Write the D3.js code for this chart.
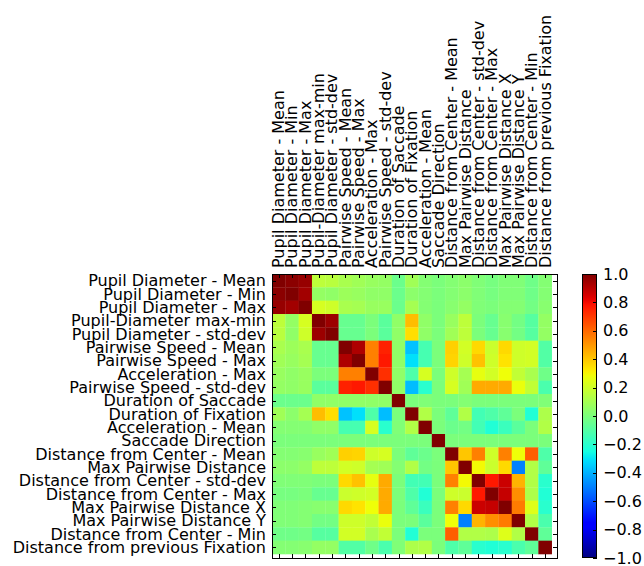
<!DOCTYPE html>
<html>
<head>
<meta charset="utf-8">
<script src="https://cdn.jsdelivr.net/npm/d3@7"></script>
<style>
  body { margin: 0; background: #fff; }
  text { font-family: "DejaVu Sans", sans-serif; font-size: 16px; fill: #000; }
</style>
</head>
<body>
<svg id="chart" width="644" height="566"></svg>
<script>
// feature names, same order on both axes
const features = [
    "Pupil Diameter - Mean",
    "Pupil Diameter - Min",
    "Pupil Diameter - Max",
    "Pupil-Diameter max-min",
    "Pupil Diameter - std-dev",
    "Pairwise Speed - Mean",
    "Pairwise Speed - Max",
    "Acceleration - Max",
    "Pairwise Speed - std-dev",
    "Duration of Saccade",
    "Duration of Fixation",
    "Acceleration - Mean",
    "Saccade Direction",
    "Distance from Center - Mean",
    "Max Pairwise Distance",
    "Distance from Center - std-dev",
    "Distance from Center - Max",
    "Max Pairwise Distance X",
    "Max Pairwise Distance Y",
    "Distance from Center - Min",
    "Distance from previous Fixation"
];

// correlation matrix (row = y label, column = x label)
const corr = [
    [1.00, 0.98, 0.96, 0.16, 0.15, 0.11, 0.09, 0.07, 0.06, -0.04, 0.09, 0.02, 0.00, 0.02, 0.04, 0.01, -0.01, 0.01, 0.01, -0.03, 0.02],
    [0.98, 1.00, 0.94, 0.06, 0.05, 0.08, 0.07, 0.05, 0.05, -0.04, 0.04, 0.02, 0.00, 0.02, 0.04, 0.01, -0.01, 0.01, 0.01, -0.03, 0.02],
    [0.96, 0.94, 1.00, 0.22, 0.20, 0.11, 0.10, 0.07, 0.07, -0.04, 0.10, 0.02, 0.00, 0.03, 0.06, 0.01, 0.00, 0.02, 0.02, -0.02, 0.03],
    [0.16, 0.06, 0.22, 1.00, 0.95, -0.05, -0.05, 0.00, -0.08, 0.05, 0.42, 0.05, 0.00, 0.07, 0.16, 0.00, -0.05, 0.03, -0.02, -0.09, 0.06],
    [0.15, 0.05, 0.20, 0.95, 1.00, -0.05, -0.05, 0.00, -0.08, 0.05, 0.35, 0.05, 0.00, 0.09, 0.16, 0.00, -0.05, 0.03, -0.02, -0.09, 0.06],
    [0.11, 0.08, 0.11, -0.05, -0.05, 1.00, 0.92, 0.55, 0.75, 0.05, -0.37, -0.13, 0.00, 0.38, 0.21, 0.36, 0.19, 0.36, 0.20, 0.21, -0.10],
    [0.09, 0.07, 0.10, -0.05, -0.05, 0.92, 1.00, 0.55, 0.77, 0.05, -0.31, -0.13, 0.00, 0.37, 0.20, 0.41, 0.20, 0.34, 0.20, 0.21, -0.10],
    [0.07, 0.05, 0.07, 0.00, 0.00, 0.55, 0.55, 1.00, 0.72, 0.05, -0.11, 0.22, 0.00, 0.20, 0.10, 0.26, 0.21, 0.28, 0.17, 0.11, -0.03],
    [0.06, 0.05, 0.07, -0.08, -0.08, 0.75, 0.77, 0.72, 1.00, 0.05, -0.38, -0.20, 0.00, 0.22, 0.09, 0.46, 0.46, 0.46, 0.27, 0.17, -0.12],
    [-0.04, -0.04, -0.04, 0.05, 0.05, 0.05, 0.05, 0.05, 0.05, 1.00, 0.00, 0.01, 0.00, 0.00, 0.02, 0.00, 0.00, 0.00, 0.00, 0.00, 0.01],
    [0.09, 0.04, 0.10, 0.42, 0.35, -0.37, -0.31, -0.11, -0.38, 0.00, 1.00, 0.13, 0.00, -0.07, 0.13, -0.14, -0.11, -0.07, 0.00, -0.22, 0.12],
    [0.02, 0.02, 0.02, 0.05, 0.05, -0.13, -0.13, 0.22, -0.20, 0.01, 0.13, 1.00, 0.00, -0.04, -0.02, -0.14, -0.22, -0.16, -0.08, 0.00, 0.13],
    [0.00, 0.00, 0.00, 0.00, 0.00, 0.00, 0.00, 0.00, 0.00, 0.00, 0.00, 0.00, 1.00, 0.00, 0.00, 0.00, 0.00, 0.00, 0.00, 0.00, 0.00],
    [0.02, 0.02, 0.03, 0.07, 0.09, 0.38, 0.37, 0.20, 0.22, 0.00, -0.07, -0.04, 0.00, 1.00, 0.40, 0.55, 0.20, 0.55, 0.28, 0.62, -0.11],
    [0.04, 0.04, 0.06, 0.16, 0.16, 0.21, 0.20, 0.10, 0.09, 0.02, 0.13, -0.02, 0.00, 0.40, 1.00, 0.29, 0.19, 0.36, -0.50, 0.13, -0.07],
    [0.01, 0.01, 0.01, 0.00, 0.00, 0.36, 0.41, 0.26, 0.46, 0.00, -0.14, -0.14, 0.00, 0.55, 0.29, 1.00, 0.77, 0.87, 0.44, 0.13, -0.20],
    [-0.01, -0.01, 0.00, -0.05, -0.05, 0.19, 0.20, 0.21, 0.46, 0.00, -0.11, -0.22, 0.00, 0.20, 0.19, 0.77, 1.00, 0.88, 0.52, 0.12, -0.22],
    [0.01, 0.01, 0.02, 0.03, 0.03, 0.36, 0.34, 0.28, 0.46, 0.00, -0.07, -0.16, 0.00, 0.55, 0.36, 0.87, 0.88, 1.00, 0.56, 0.24, -0.20],
    [0.01, 0.01, 0.02, -0.02, -0.02, 0.20, 0.20, 0.17, 0.27, 0.00, 0.00, -0.08, 0.00, 0.28, -0.50, 0.44, 0.52, 0.56, 1.00, 0.13, -0.12],
    [-0.03, -0.03, -0.02, -0.09, -0.09, 0.21, 0.21, 0.11, 0.17, 0.00, -0.22, 0.00, 0.00, 0.62, 0.13, 0.13, 0.12, 0.24, 0.13, 1.00, -0.07],
    [0.02, 0.02, 0.03, 0.06, 0.06, -0.10, -0.10, -0.03, -0.12, 0.01, 0.12, 0.13, 0.00, -0.11, -0.07, -0.20, -0.22, -0.20, -0.12, -0.07, 1.00]
];

const cbarTicks = [1.0, 0.8, 0.6, 0.4, 0.2, 0.0, -0.2, -0.4, -0.6, -0.8, -1.0];

const svg = d3.select("#chart");

// frame of the matrix axes (image does not quite fill it on the right/bottom)
const plotL = 272, plotT = 274, plotR = 557, plotB = 558;
const n = features.length;

const xScale = d3.scaleLinear().domain([-0.5, n - 0.1]).range([plotL, plotR]);
const yScale = d3.scaleLinear().domain([-0.5, n - 0.2]).range([plotT, plotB]);

// matplotlib "jet"
const toT = d3.scaleLinear().domain([-1, 1]).range([0, 1]).clamp(true);
const rCh = d3.scaleLinear().domain([0, 0.35, 0.66, 0.89, 1]).range([0, 0, 1, 1, 0.5]).clamp(true);
const gCh = d3.scaleLinear().domain([0, 0.125, 0.375, 0.64, 0.91, 1]).range([0, 0, 1, 1, 0, 0]).clamp(true);
const bCh = d3.scaleLinear().domain([0, 0.11, 0.34, 0.65, 1]).range([0.5, 1, 1, 0, 0]).clamp(true);
function jet(v) {
    const t = toT(v);
    return d3.rgb(rCh(t) * 255, gCh(t) * 255, bCh(t) * 255).formatHex();
}

// cells
const cells = [];
corr.forEach((row, i) => row.forEach((v, j) => cells.push({ i, j, v })));

svg.append("g")
    .selectAll("rect")
    .data(cells)
    .join("rect")
    .attr("x", d => xScale(d.j - 0.5))
    .attr("y", d => yScale(d.i - 0.5))
    .attr("width", d => xScale(d.j + 0.5) - xScale(d.j - 0.5) + 0.3)
    .attr("height", d => yScale(d.i + 0.5) - yScale(d.i - 0.5) + 0.3)
    .attr("fill", d => jet(d.v));

// ticks, pointing inwards on all four sides
const tickLen = 4;
const idx = d3.range(n);
const ticks = svg.append("g").attr("stroke", "#000").attr("stroke-width", 1);
idx.forEach(k => {
    const x = Math.round(xScale(k)) + 0.5, y = Math.round(yScale(k)) + 0.5;
    ticks.append("line").attr("x1", x).attr("x2", x).attr("y1", plotT).attr("y2", plotT + tickLen);
    ticks.append("line").attr("x1", x).attr("x2", x).attr("y1", plotB).attr("y2", plotB - tickLen);
    ticks.append("line").attr("y1", y).attr("y2", y).attr("x1", plotL).attr("x2", plotL + tickLen);
    ticks.append("line").attr("y1", y).attr("y2", y).attr("x1", plotR).attr("x2", plotR - tickLen);
});

svg.append("rect")
    .attr("x", plotL + 0.5).attr("y", plotT + 0.5)
    .attr("width", plotR - plotL).attr("height", plotB - plotT)
    .attr("fill", "none").attr("stroke", "#000").attr("stroke-width", 1);

// y labels
svg.append("g")
    .selectAll("text")
    .data(features)
    .join("text")
    .attr("x", plotL - 6)
    .attr("y", (d, i) => yScale(i))
    .attr("text-anchor", "end")
    .attr("dominant-baseline", "central")
    .text(d => d);

// x labels on top, rotated
svg.append("g")
    .selectAll("text")
    .data(features)
    .join("text")
    .attr("transform", (d, i) => "translate(" + xScale(i) + "," + (plotT - 6) + ") rotate(-90)")
    .attr("text-anchor", "start")
    .attr("dominant-baseline", "central")
    .text(d => d);

// colorbar
const cbX = 582, cbW = 15;
const cScale = d3.scaleLinear().domain([1, -1]).range([plotT, plotB]);

const grad = svg.append("defs").append("linearGradient")
    .attr("id", "jetGrad")
    .attr("x1", 0).attr("y1", 0).attr("x2", 0).attr("y2", 1);
grad.selectAll("stop")
    .data(d3.range(0, 1.0001, 1 / 64))
    .join("stop")
    .attr("offset", d => d)
    .attr("stop-color", d => jet(1 - 2 * d));

svg.append("rect")
    .attr("x", cbX).attr("y", plotT)
    .attr("width", cbW).attr("height", plotB - plotT)
    .attr("fill", "url(#jetGrad)");

const cb = svg.append("g");
cbarTicks.forEach(t => {
    const y = Math.round(cScale(t)) + 0.5;
    cb.append("line")
        .attr("x1", cbX + cbW - tickLen).attr("x2", cbX + cbW)
        .attr("y1", y).attr("y2", y)
        .attr("stroke", "#000");
    cb.append("text")
        .attr("x", cbX + cbW + 6)
        .attr("y", cScale(t))
        .attr("dominant-baseline", "central")
        .text(d3.format(".1f")(t).replace("-", "\u2212"));
});

svg.append("rect")
    .attr("x", cbX + 0.5).attr("y", plotT + 0.5)
    .attr("width", cbW - 1).attr("height", plotB - plotT - 1)
    .attr("fill", "none").attr("stroke", "#000").attr("stroke-width", 1);
</script>
</body>
</html>
